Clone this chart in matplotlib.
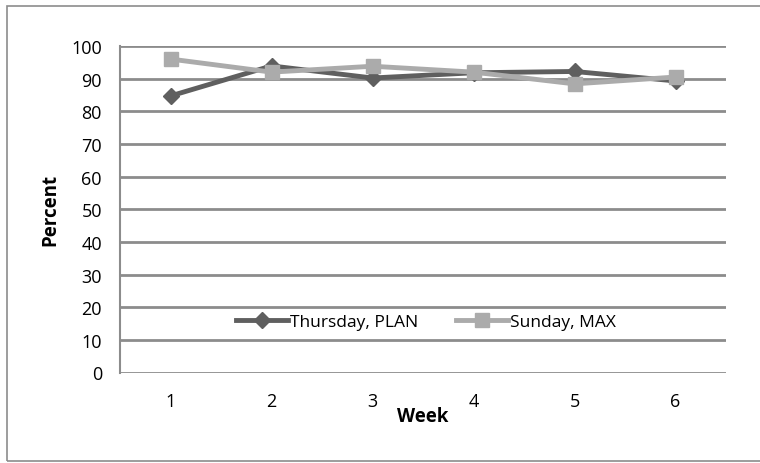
import matplotlib.pyplot as plt
from matplotlib.patches import Rectangle

weeks = [1, 2, 3, 4, 5, 6]
thursday_plan = [84.7, 93.9, 90.2, 91.8, 92.2, 89.3]
sunday_max = [96.0, 92.0, 93.8, 92.0, 88.4, 90.5]
yticks = list(range(0, 101, 10))

plt.rcParams["font.family"] = ["Open Sans", "DejaVu Sans"]

W, H = 760, 464
fig = plt.figure(figsize=(W / 100, H / 100), dpi=100)
ax = fig.add_axes([120 / W, (H - 373.5) / H, 606 / W, 326.5 / H])

# outer chart border
fig.patches.append(Rectangle((7 / W, 2 / H), 1.0, (H - 9) / H, transform=fig.transFigure,
                             fill=False, edgecolor="#8c8c8c", linewidth=1.2))

grid_c = "#8c8c8c"
for y in yticks:
    ax.axhline(y, color=grid_c, linewidth=2, zorder=1)

ax.plot(weeks, thursday_plan, color="#5f5f5f", linewidth=3.5, marker="D",
        markersize=8, label="Thursday, PLAN", zorder=3)
ax.plot(weeks, sunday_max, color="#ababab", linewidth=3.5, marker="s",
        markersize=10, label="Sunday, MAX", zorder=4)

ax.set_xlim(0.5, 6.5)
ax.set_ylim(0, 100)
ax.set_yticks(yticks)
ax.set_xticks(weeks)
ax.tick_params(length=0, labelsize=13, colors="#000000", pad=13)
ax.tick_params(axis="x", pad=14)
for s in ["top", "right", "bottom"]:
    ax.spines[s].set_visible(False)
ax.spines["left"].set_color(grid_c)
ax.spines["left"].set_linewidth(1.5)

ax.set_xlabel("Week", fontsize=13.5, fontweight="bold", labelpad=-3)
ax.set_ylabel("Percent", fontsize=13.5, fontweight="bold", labelpad=8)

leg = ax.legend(loc="center", bbox_to_anchor=(0.505, 0.155), ncol=2, frameon=False,
                fontsize=12.5, handlelength=3, columnspacing=2.2, handletextpad=0.1)

fig.savefig("out.png", dpi=100)
